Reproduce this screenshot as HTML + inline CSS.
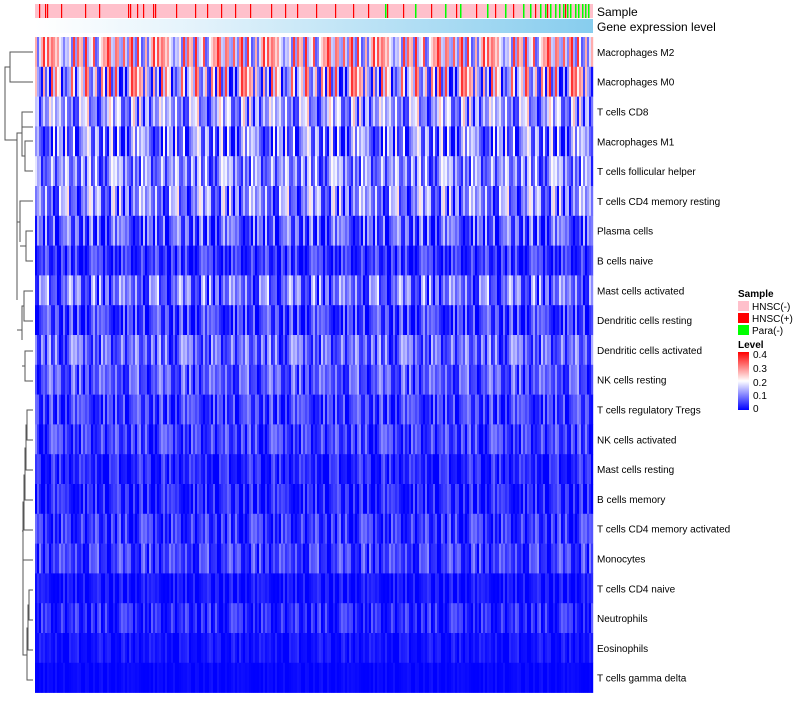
<!DOCTYPE html>
<html><head><meta charset="utf-8"><style>
body{margin:0;background:#fff;font-family:"Liberation Sans",sans-serif}
svg text{font-family:"Liberation Sans",sans-serif}
</style></head><body>
<svg id="c" width="800" height="700">
<defs>
<linearGradient id="gexp" x1="0" x2="1"><stop offset="0" stop-color="#ffffff"/><stop offset="0.3" stop-color="#e2f2fb"/><stop offset="1" stop-color="#87cdee"/></linearGradient>
<linearGradient id="lvl" x1="0" y1="1" x2="0" y2="0"><stop offset="0" stop-color="#0000ff"/><stop offset="0.5" stop-color="#ffffff"/><stop offset="1" stop-color="#ff0000"/></linearGradient>
</defs>
<rect x="35" y="4" width="558" height="14" fill="#ffc0cb"/>
<g id="sampleMarks"></g>
<rect x="35" y="19" width="558" height="14" fill="url(#gexp)"/>
<text x="597" y="16" font-size="12">Sample</text>
<text x="597" y="31" font-size="12">Gene expression level</text>
<g id="cells"></g>
<g id="labels"></g>
<g fill="none" stroke="#555" stroke-width="1">
<path d="M33,52H10V82H33 M10,67H5V140H17"/>
<path d="M33,112H22V127H33 M33,141H25V171H33 M25,156H22V119 M22,133H17V241"/>
<path d="M33,201H20V242 M33,231H26V261H33 M26,246H20 M20,222H17V300"/>
<path d="M33,291H24V321H33 M24,306H22V340 M33,351H25V381H33 M25,366H22 M22,330H17"/>
<path d="M33,410H27V440H33 M27,425H26V470H33 M26,448H25V500H33 M25,475H24V530H33 M24,502H23V560H33 M23,531H22"/>
<path d="M33,590H29V620H33 M29,605H28V650H33 M28,628H27V680H33 M27,655H23V560"/>
</g>
<g>
<text x="738" y="297" font-size="10" font-weight="bold">Sample</text>
<rect x="738" y="301" width="11" height="10" fill="#ffc0cb"/>
<text x="752" y="310" font-size="10">HNSC(-)</text>
<rect x="738" y="313" width="11" height="10" fill="#ff0000"/>
<text x="752" y="322" font-size="10">HNSC(+)</text>
<rect x="738" y="325" width="11" height="10" fill="#00ff00"/>
<text x="752" y="334" font-size="10">Para(-)</text>
<text x="738" y="348" font-size="10" font-weight="bold">Level</text>
<rect x="738" y="352" width="11" height="58" fill="url(#lvl)"/>
<g font-size="10">
<text x="753" y="358">0.4</text><text x="753" y="372">0.3</text><text x="753" y="386">0.2</text><text x="753" y="399">0.1</text><text x="753" y="412">0</text>
</g>
</g>
</svg>
<script>
const rowNames=["Macrophages M2","Macrophages M0","T cells CD8","Macrophages M1","T cells follicular helper","T cells CD4 memory resting","Plasma cells","B cells naive","Mast cells activated","Dendritic cells resting","Dendritic cells activated","NK cells resting","T cells regulatory  Tregs","NK cells activated","Mast cells resting","B cells memory","T cells CD4 memory activated","Monocytes","T cells CD4 naive","Neutrophils","Eosinophils","T cells gamma delta"];
const rowMeans=[0.22,0.17,0.13,0.10,0.11,0.11,0.07,0.04,0.09,0.05,0.08,0.07,0.05,0.05,0.03,0.03,0.04,0.05,0.015,0.03,0.015,0.005];
const rowSpread=[0.15,0.2,0.12,0.12,0.1,0.12,0.09,0.06,0.1,0.07,0.08,0.07,0.06,0.06,0.05,0.05,0.06,0.06,0.03,0.05,0.025,0.01];
const texture=[0.3,-0.8,0.6,-0.2,0.9,-0.6,0.1,-0.9,0.5,-0.4,0.8,-0.1,-0.7,0.4,-0.3,1.0,-0.5,0.2,-1.0,0.7,-0.2,0.3,-0.6,0.0,0.6,-0.8,0.2,-0.4,0.95,-0.3,-0.9,0.45,-0.15];
const redSamples=[4,10,12,26,50,64,93,95,102,108,118,120,141,160,172,186,200,215,236,250,262,281,300,318,333,352,368,380,396,421,441,460,478,500,512,530,547];
const greenSamples=[350,380,410,425,452,470,488,495,505,510,515,520,524,528,532,535,540,543,547,550,553];
const nSamples=558, X0=35, W=558, Y0=37, RH=29.8;
const sx=i=>X0+i*W/nSamples;
const ry=r=>Y0+r*RH;
function col(v){v=Math.max(0,Math.min(0.4,v));let t;
 if(v<0.2){t=v/0.2;const c=Math.round(255*t);return `rgb(${c},${c},255)`;}
 t=(v-0.2)/0.2;const c=Math.round(255*(1-t));return `rgb(255,${c},${c})`;}
const ns="http://www.w3.org/2000/svg";
const sm=document.getElementById('sampleMarks');
redSamples.forEach(s=>{const e=document.createElementNS(ns,'rect');e.setAttribute('x',sx(s));e.setAttribute('y',4);e.setAttribute('width',1.2);e.setAttribute('height',14);e.setAttribute('fill','#ff0000');


sm.appendChild(e);});
greenSamples.forEach(s=>{const e=document.createElementNS(ns,'rect');e.setAttribute('x',sx(s));e.setAttribute('y',4);e.setAttribute('width',1.5);e.setAttribute('height',14);e.setAttribute('fill','#00ff00');


sm.appendChild(e);});
const cg=document.getElementById('cells'), lg=document.getElementById('labels');
const step=2;
rowNames.forEach((n,r)=>{
 for(let i=0;i<nSamples;i+=step){
  const k=(i/step*7+r*13+Math.floor(i/step/5))%texture.length;
  const v=rowMeans[r]+rowSpread[r]*texture[k];
  const e=document.createElementNS(ns,'rect');
  e.setAttribute('x',sx(i));e.setAttribute('y',ry(r));e.setAttribute('width',W/nSamples*step+0.2);e.setAttribute('height',RH+0.3);e.setAttribute('fill',col(v));
  
  
  cg.appendChild(e);}
 const t=document.createElementNS(ns,'text');t.setAttribute('x',597);t.setAttribute('y',ry(r)+RH/2+4);t.setAttribute('font-size','10');t.textContent=n;
 
 
 lg.appendChild(t);
});
</script>
</body></html>
